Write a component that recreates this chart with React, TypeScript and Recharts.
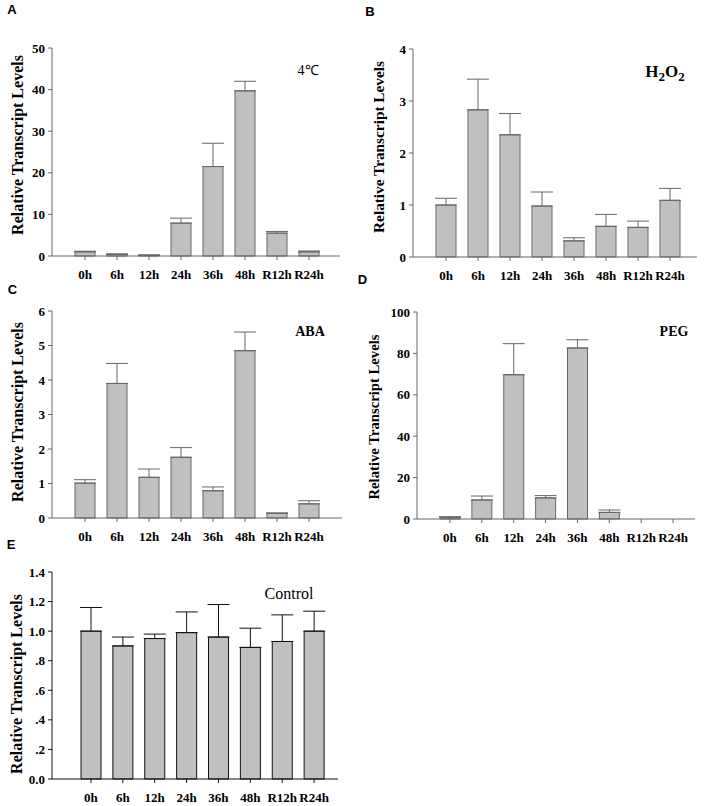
import { Bar, BarChart, ErrorBar, XAxis, YAxis } from "recharts";

const hours = ["0h", "6h", "12h", "24h", "36h", "48h", "R12h", "R24h"];

const coldMean = [1.0, 0.4, 0.2, 7.9, 21.5, 39.7, 5.5, 1.0];
const coldErr = [0.15, 0.1, 0.05, 1.2, 5.6, 2.3, 0.4, 0.2];
const coldTicks = [0, 10, 20, 30, 40, 50];

const h2o2Mean = [1.0, 2.83, 2.35, 0.98, 0.31, 0.59, 0.57, 1.09];
const h2o2Err = [0.13, 0.59, 0.41, 0.27, 0.06, 0.23, 0.12, 0.23];
const h2o2Ticks = [0, 1, 2, 3, 4];

const abaMean = [1.01, 3.9, 1.18, 1.76, 0.79, 4.85, 0.13, 0.41];
const abaErr = [0.1, 0.58, 0.24, 0.28, 0.11, 0.54, 0.02, 0.09];
const abaTicks = [0, 1, 2, 3, 4, 5, 6];

const pegMean = [0.8, 9.2, 69.7, 10.2, 82.6, 3.2, 0, 0];
const pegErr = [0.3, 1.9, 15.0, 1.1, 4.0, 1.15, null, null];
const pegTicks = [0, 20, 40, 60, 80, 100];

const ctrlMean = [1.0, 0.9, 0.95, 0.99, 0.96, 0.89, 0.93, 1.0];
const ctrlErr = [0.16, 0.06, 0.03, 0.14, 0.22, 0.13, 0.18, 0.135];
const ctrlTicks = [0, 0.2, 0.4, 0.6, 0.8, 1.0, 1.2, 1.4];

const serif = '"Liberation Serif", "Times New Roman", serif';
const sans = '"Liberation Sans", Arial, sans-serif';

const rows = (mean: number[], err: (number | null)[]) =>
  hours.map((hour, i) => ({
    hour,
    mean: mean[i],
    err: err[i] == null ? null : [0, err[i]],
  }));

const ctrlFmt = (v: number) =>
  v === 0 ? "0.0" : v < 1 ? "." + Math.round(v * 10) : v.toFixed(1);

type PanelProps = {
  x: number;
  y: number;
  w: number;
  h: number;
  plot: { l: number; r: number; t: number; b: number };
  padL: number;
  padR: number;
  data: any[];
  ticks: number[];
  fmt?: (v: number) => string;
  line: string;
};

function Panel({ x, y, w, h, plot, padL, padR, data, ticks, fmt, line }: PanelProps) {
  const domain = [ticks[0], ticks[ticks.length - 1]];
  const tickFont = { fill: "#000", fontSize: 13, fontWeight: "bold", fontFamily: serif };
  return (
    <div style={{ position: "absolute", left: x, top: y, fontFamily: serif }}>
      <BarChart
        width={w}
        height={h}
        data={data}
        style={{ fontFamily: serif }}
        margin={{ top: plot.t - y, right: x + w - plot.r, left: 0, bottom: 0 }}
      >
        <XAxis
          dataKey="hour"
          interval={0}
          height={y + h - plot.b}
          padding={{ left: padL, right: padR }}
          stroke={line}
          tickSize={4}
          tickMargin={10}
          tick={tickFont}
        />
        <XAxis
          xAxisId="top"
          orientation="top"
          dataKey="hour"
          height={0}
          tick={false}
          tickLine={false}
          stroke={line}
        />
        <YAxis
          type="number"
          domain={domain}
          ticks={ticks}
          interval={0}
          width={plot.l - x}
          stroke={line}
          tickSize={4}
          tickMargin={3}
          tickFormatter={fmt}
          tick={tickFont}
        />
        <YAxis
          yAxisId="right"
          orientation="right"
          type="number"
          domain={domain}
          width={0}
          tick={false}
          tickLine={false}
          stroke={line}
        />
        <Bar
          dataKey="mean"
          fill="#c0c0c0"
          stroke={line}
          strokeWidth={1}
          barSize={20}
          isAnimationActive={false}
        >
          <ErrorBar dataKey="err" direction="y" width={11} stroke={line} strokeWidth={1} />
        </Bar>
      </BarChart>
    </div>
  );
}

function Txt({ cx, cy, size, bold, family, rotate, children }: any) {
  return (
    <div
      style={{
        position: "absolute",
        left: cx,
        top: cy,
        transform: `translate(-50%, -50%)${rotate ? " rotate(-90deg)" : ""}`,
        whiteSpace: "nowrap",
        lineHeight: 1,
        fontSize: size,
        fontWeight: bold ? "bold" : "normal",
        fontFamily: family ?? serif,
        color: "#000",
      }}
    >
      {children}
    </div>
  );
}

const yLabel = "Relative Transcript Levels";

export default function App() {
  return (
    <div
      style={{
        position: "absolute",
        left: 0,
        top: 0,
        width: 708,
        height: 806,
        background: "#fff",
        fontFamily: serif,
      }}
    >
      <Panel
        x={0} y={0} w={354} h={290}
        plot={{ l: 52, r: 340, t: 48, b: 256 }}
        padL={17} padR={15}
        data={rows(coldMean, coldErr)}
        ticks={coldTicks}
        line="#666"
      />
      <Panel
        x={354} y={0} w={354} h={290}
        plot={{ l: 413, r: 697, t: 49, b: 257 }}
        padL={17} padR={11}
        data={rows(h2o2Mean, h2o2Err)}
        ticks={h2o2Ticks}
        line="#666"
      />
      <Panel
        x={0} y={270} w={354} h={280}
        plot={{ l: 52, r: 342, t: 311, b: 518 }}
        padL={17} padR={17}
        data={rows(abaMean, abaErr)}
        ticks={abaTicks}
        line="#666"
      />
      <Panel
        x={354} y={270} w={354} h={280}
        plot={{ l: 417, r: 695, t: 312, b: 519 }}
        padL={17} padR={6}
        data={rows(pegMean, pegErr)}
        ticks={pegTicks}
        line="#666"
      />
      <Panel
        x={0} y={535} w={354} h={271}
        plot={{ l: 52, r: 338, t: 572, b: 779 }}
        padL={23} padR={8}
        data={rows(ctrlMean, ctrlErr)}
        ticks={ctrlTicks}
        fmt={ctrlFmt}
        line="#111"
      />

      <Txt cx={18} cy={145} size={16} bold rotate>{yLabel}</Txt>
      <Txt cx={379} cy={147} size={15.3} bold rotate>{yLabel}</Txt>
      <Txt cx={18} cy={412} size={16} bold rotate>{yLabel}</Txt>
      <Txt cx={374} cy={417} size={14.7} bold rotate>{yLabel}</Txt>
      <Txt cx={17} cy={684} size={16} bold rotate>{yLabel}</Txt>

      <Txt cx={308} cy={71} size={14}>4℃</Txt>
      <Txt cx={665} cy={73} size={17} bold>
        H<sub style={{ fontSize: 13 }}>2</sub>O<sub style={{ fontSize: 13 }}>2</sub>
      </Txt>
      <Txt cx={310} cy={332} size={14} bold>ABA</Txt>
      <Txt cx={674} cy={332} size={14} bold>PEG</Txt>
      <Txt cx={289} cy={594} size={16}>Control</Txt>

      <Txt cx={12} cy={9} size={13} bold family={sans}>A</Txt>
      <Txt cx={370} cy={10.5} size={13} bold family={sans}>B</Txt>
      <Txt cx={12.5} cy={289} size={13} bold family={sans}>C</Txt>
      <Txt cx={362.5} cy={278.5} size={13} bold family={sans}>D</Txt>
      <Txt cx={11} cy={544} size={13} bold family={sans}>E</Txt>
    </div>
  );
}
